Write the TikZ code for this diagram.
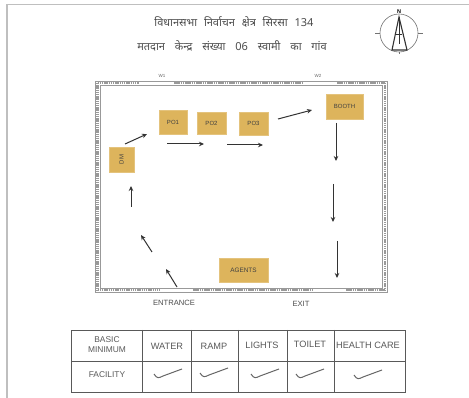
\documentclass[tikz,border=0pt]{standalone}
\usepackage{fontspec}
\setmainfont{Liberation Sans}
\newfontfamily\hindi[Script=Devanagari]{Noto Sans}
\usetikzlibrary{arrows.meta}
\definecolor{booth}{HTML}{DDB45C}
\tikzset{
 box/.style={fill=booth,draw=booth!80!white,line width=.3pt,inner sep=0pt,font=\fontsize{6}{6}\selectfont,text=black!75},
 flow/.style={-{Stealth[length=5pt,width=4.5pt]},line width=1pt,black!80},
 wallo/.style={draw=black!40,line width=.8pt},
 wallt/.style={draw=black!40,line width=2.2pt,dash pattern=on 1.5pt off .7pt},
 lbl/.style={font=\fontsize{7.6}{8}\selectfont,text=black!70,inner sep=0pt},
 small/.style={font=\fontsize{4.5}{5}\selectfont,text=black!60,inner sep=0pt},
 head/.style={font=\hindi\fontsize{11}{12}\selectfont,text=black!70,inner sep=0pt},
 cell/.style={font=\fontsize{9.2}{10.5}\selectfont,text=black!65,inner sep=0pt,align=center},
 rule/.style={black!65,line width=.9pt},
 tick/.style={line width=1pt,black!60},
 frame/.style={black!25,line width=1.6pt}
}
\newcommand{\chk}[2]{\draw[tick] (#1-14,#2-1) .. controls (#1-11,#2+4) and (#1-9,#2+3) .. (#1-5,#2+1) -- (#1+14,#2-6);}
\newcommand{\gp}[1]{\hspace*{#1pt}}
\begin{document}
\begin{tikzpicture}[x=1pt,y=-1pt]
\useasboundingbox (0,0) rectangle (469,398);
\fill[white] (0,0) rectangle (469,398);
\draw[frame] (7,398) -- (7,4.5) -- (469,4.5);
\node[head] (t1) at (234,22) {विधानसभा\gp4 निर्वाचन\gp4 क्षेत्र\gp4 सिरसा\gp4 134};
\node[head] (t2) at (232,46) {मतदान\gp7 केन्द्र\gp7 संख्या\gp7 06\gp7 स्वामी\gp7 का\gp7 गांव};
% compass
\coordinate (cc) at (399,33);
\draw[black!55,line width=.6pt] (cc) circle (19);
\draw[black!55,line width=.6pt] (375,33) -- (380,33) (418,33) -- (423,33) (399,52) -- (399,54);
\draw[black!80,line width=1.1pt] (399,17) -- (392,50) -- (407,50) -- cycle;
\draw[black!80,line width=.8pt] (396,34) -- (402,34) (399,17) -- (399,44);
\node[font=\fontsize{5.5}{5}\selectfont\bfseries,inner sep=0pt] (north) at (399,12) {N};
% walls
\draw[wallo] (95,81) rectangle (387,292);
\draw[wallo,line width=.5pt] (100,85.5) rectangle (382.5,288);
\draw[wallt] (97.5,83) -- (139,83) (174,83) -- (303,83) (337,83) -- (385,83);
\draw[wallt] (97.5,83) -- (97.5,290);
\draw[wallt] (385,83) -- (385,290);
\draw[wallt] (97.5,290) -- (160,290) (193,290) -- (313,290) (346,290) -- (385,290);
\node[small] (w1) at (162,75.5) {W1};
\node[small] (w2) at (318,76) {W2};
\node[lbl] (ent) at (174,303) {ENTRANCE};
\node[lbl] (ext) at (301,304) {EXIT};
% boxes
\node[box,minimum width=25pt,minimum height=25pt] (dm) at (121.5,159.5) {\rotatebox{90}{DM}};
\node[box,minimum width=28pt,minimum height=24pt] (po1) at (173,122) {PO1};
\node[box,minimum width=29pt,minimum height=22pt] (po2) at (211.5,123) {PO2};
\node[box,minimum width=29pt,minimum height=22.5pt] (po3) at (253.5,123.5) {PO3};
\node[box,minimum width=37pt,minimum height=25pt] (bt) at (344.5,106.5) {BOOTH};
\node[box,minimum width=49pt,minimum height=24pt,font=\fontsize{6.4}{6}\selectfont] (ag) at (243.5,270) {AGENTS};
% arrows
\coordinate (a1) at (131,207); \coordinate (a2) at (131,186);
\coordinate (b1) at (152,252); \coordinate (b2) at (141,235);
\coordinate (c1) at (177,287); \coordinate (c2) at (166,269);
\coordinate (d1) at (125,144); \coordinate (d2) at (147,134);
\coordinate (e1) at (167,144); \coordinate (e2) at (204,144);
\coordinate (f1) at (227,145); \coordinate (f2) at (263,145);
\coordinate (g1) at (278,119); \coordinate (g2) at (312,110);
\coordinate (h1) at (336,123); \coordinate (h2) at (336,161);
\coordinate (i1) at (333,184); \coordinate (i2) at (333,222);
\coordinate (j1) at (337,241); \coordinate (j2) at (337,278);
\foreach \p/\q in {a1/a2,b1/b2,c1/c2,d1/d2,e1/e2,f1/f2,g1/g2,h1/h2,i1/i2,j1/j2}
  \draw[flow] (\p) -- (\q);
% table
\draw[rule] (71,330) rectangle (405,392);
\draw[rule] (71,361) -- (405,361);
\foreach \x in {142,191,238,287,334} \draw[rule] (\x,330) -- (\x,392);
\node[cell,font=\fontsize{8.4}{10}\selectfont] (c0) at (107,345) {BASIC\\MINIMUM};
\node[cell] (c1) at (167,346) {WATER};
\node[cell] (c2) at (214,346) {RAMP};
\node[cell] (c3) at (262,345) {LIGHTS};
\node[cell] (c4) at (310,344) {TOILET};
\node[cell] (c5) at (368,345) {HEALTH CARE};
\node[cell,font=\fontsize{8.4}{10}\selectfont] (c6) at (107,375) {FACILITY};
\chk{168}{375}\chk{214}{374}\chk{265}{375}\chk{310}{375}\chk{368}{376}
\end{tikzpicture}
\end{document}
